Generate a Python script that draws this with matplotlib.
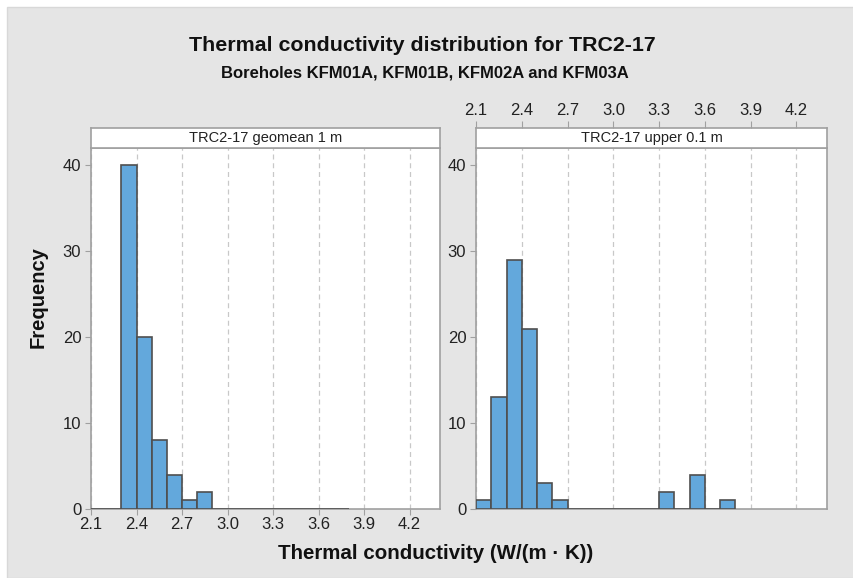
import matplotlib
matplotlib.use("Agg")
import matplotlib.pyplot as plt
from matplotlib.patches import Rectangle

plt.rcParams['font.family'] = ['Liberation Sans', 'DejaVu Sans']

# histogram data (bins 0.1 wide)
bin_starts = [2.1, 2.2, 2.3, 2.4, 2.5, 2.6, 2.7, 2.8, 2.9, 3.0, 3.1, 3.2, 3.3, 3.4, 3.5, 3.6, 3.7]
counts_geomean = [0, 0, 40, 20, 8, 4, 1, 2, 0, 0, 0, 0, 0, 0, 0, 0, 0]
counts_upper = [1, 13, 29, 21, 3, 1, 0, 0, 0, 0, 0, 0, 2, 0, 4, 0, 1]
panel_titles = ['TRC2-17 geomean 1 m', 'TRC2-17 upper 0.1 m']
xticks = [2.1, 2.4, 2.7, 3.0, 3.3, 3.6, 3.9, 4.2]
yticks = [0, 10, 20, 30, 40]

bar_color = '#63a8dc'
edge_color = '#4f4f4f'
spine_color = '#a0a0a0'
bg_color = '#e5e5e5'

W, H = 854, 578
fig = plt.figure(figsize=(W / 100, H / 100), dpi=100)
fig.patch.set_facecolor('white')
fig.patches.append(Rectangle((7 / W, 0), 1 - 7 / W, 1 - 7 / H, transform=fig.transFigure,
                             facecolor=bg_color, edgecolor='#d8d8d8', linewidth=1, zorder=-10))


def px(x0, y0, x1, y1):
    return [x0 / W, 1 - y1 / H, (x1 - x0) / W, (y1 - y0) / H]


panels = [(91, 440, counts_geomean, panel_titles[0], 'bottom'),
          (476, 827, counts_upper, panel_titles[1], 'top')]

for x0, x1, counts, title, tickside in panels:
    ax = fig.add_axes(px(x0, 148, x1, 509))
    strip = fig.add_axes(px(x0, 128, x1, 148))

    ax.bar(bin_starts, counts, width=0.1, align='edge', color=bar_color,
           edgecolor=edge_color, linewidth=1.2, zorder=3)
    ax.set_xlim(2.1, 4.4)
    ax.set_ylim(0, 42)
    ax.set_xticks(xticks)
    ax.set_yticks(yticks)
    ax.grid(axis='x', color='#c8c8c8', linestyle=(0, (4, 3)), linewidth=0.9, zorder=0)
    ax.set_facecolor('white')
    for s in ax.spines.values():
        s.set_color(spine_color)
        s.set_linewidth(1.2)
    ax.tick_params(axis='y', length=4, color=spine_color, labelsize=12, pad=3, labelcolor='#222222')
    ax.tick_params(axis='x', length=4, color=spine_color, labelsize=12, pad=2, labelcolor='#222222')

    strip.set_xlim(2.1, 4.4)
    strip.set_yticks([])
    strip.set_facecolor('white')
    for s in strip.spines.values():
        s.set_color(spine_color)
        s.set_linewidth(1.2)
    strip.text(0.5, 0.5, title, transform=strip.transAxes, ha='center', va='center',
               fontsize=10.5, color='#222222')

    if tickside == 'bottom':
        strip.set_xticks([])
    else:
        ax.tick_params(axis='x', labelbottom=False, length=0)
        strip.set_xticks(xticks)
        strip.xaxis.tick_top()
        strip.tick_params(axis='x', length=5, color=spine_color, labelsize=12, pad=2,
                          labelcolor='#222222')

fig.text(0.495, 0.922, 'Thermal conductivity distribution for TRC2-17', ha='center', va='center',
         fontsize=15.4, fontweight='bold', color='#111111')
fig.text(0.497, 0.874, 'Boreholes KFM01A, KFM01B, KFM02A and KFM03A', ha='center', va='center',
         fontsize=12, fontweight='bold', color='#111111')
fig.text(0.51, 0.043, 'Thermal conductivity (W/(m \u00b7 K))', ha='center', va='center',
         fontsize=14.8, fontweight='bold', color='#111111')
fig.text(0.045, 0.486, 'Frequency', ha='center', va='center', rotation=90,
         fontsize=14.5, fontweight='bold', color='#111111')

fig.savefig('out.png', dpi=100, facecolor=fig.get_facecolor())
